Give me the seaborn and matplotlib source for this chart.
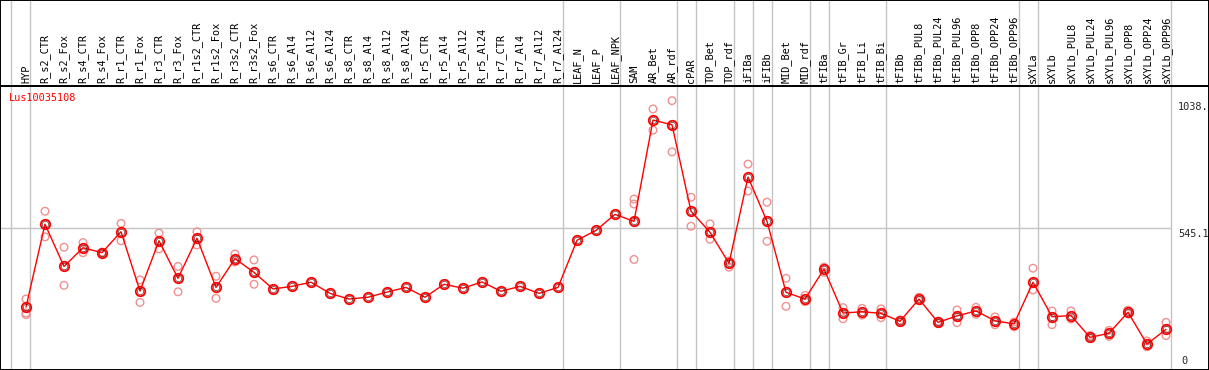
import numpy as np
import pandas as pd
import matplotlib
matplotlib.use("Agg")
import matplotlib.pyplot as plt
import seaborn as sns

# sample names (x categories)
samples = ["HYP", "R_s2_CTR", "R_s2_Fox", "R_s4_CTR", "R_s4_Fox", "R_r1_CTR", "R_r1_Fox",
           "R_r3_CTR", "R_r3_Fox", "R_r1s2_CTR", "R_r1s2_Fox", "R_r3s2_CTR", "R_r3s2_Fox",
           "R_s6_CTR", "R_s6_Al4", "R_s6_Al12", "R_s6_Al24", "R_s8_CTR", "R_s8_Al4",
           "R_s8_Al12", "R_s8_Al24", "R_r5_CTR", "R_r5_Al4", "R_r5_Al12", "R_r5_Al24",
           "R_r7_CTR", "R_r7_Al4", "R_r7_Al12", "R_r7_Al24", "LEAF_N", "LEAF_P", "LEAF_NPK",
           "SAM", "AR_Bet", "AR_rdf", "cPAR", "TOP_Bet", "TOP_rdf", "iFIBa", "iFIBb",
           "MID_Bet", "MID_rdf", "tFIBa", "tFIB_Gr", "tFIB_Li", "tFIB_Bi", "tFIBb",
           "tFIBb_PUL8", "tFIBb_PUL24", "tFIBb_PUL96", "tFIBb_OPP8", "tFIBb_OPP24",
           "tFIBb_OPP96", "sXYLa", "sXYLb", "sXYLb_PUL8", "sXYLb_PUL24", "sXYLb_PUL96",
           "sXYLb_OPP8", "sXYLb_OPP24", "sXYLb_OPP96"]

# mean expression per sample
means = [241, 561, 398, 470, 451, 532, 303, 497, 352, 507, 317, 428, 375,
         311, 321, 337, 294, 272, 279, 299, 317, 279, 329, 314, 338, 302, 321, 294, 317,
         499, 537, 599, 572, 963, 945, 611, 530, 410, 743, 572, 298, 272, 388,
         218, 223, 217, 186, 272, 182, 207, 226, 188, 176, 337, 204, 208, 124, 140,
         221, 98, 155]

# replicate values (empty where only one replicate)
replicates = [[272, 218, 212], [611, 512], [472, 325], [490, 451], [449, 453],
              [564, 497], [346, 259], [527, 466], [398, 300], [532, 481], [360, 275],
              [446, 415], [423, 329],
              [], [], [], [], [], [], [], [], [], [], [], [], [], [], [], [], [], [], [],
              [658, 639, 425], [1006, 924], [1038, 840], [665, 553], [562, 503],
              [419, 395], [793, 689], [646, 495], [352, 244], [286, 262], [395, 375],
              [239, 196], [236, 210], [234, 200], [191, 181], [279, 266], [186, 178],
              [230, 181], [240, 213], [203, 173], [183, 165], [391, 307], [226, 173],
              [226, 195], [131, 120], [151, 128], [229, 215], [110, 88], [182, 131]]

# group boundaries (line drawn after these sample indices)
group_ends = [-1, 0, 28, 31, 34, 35, 37, 38, 39, 41, 42, 45, 52, 53, 60]

gene_id = "Lus10035108"
y_ticks = [0, 545.1, 1038]
y_tick_labels = ["0", "545.1", "1038."]

df_mean = pd.DataFrame({"pos": np.arange(len(samples)), "value": means})
rep_rows = [(i, v) for i, reps in enumerate(replicates) for v in reps]
df_rep = pd.DataFrame(rep_rows, columns=["pos", "value"])

sns.set_style("white")
plt.rcParams["font.family"] = ["DejaVu Sans Mono", "DejaVu Sans"]

W, H = 1209, 370
fig = plt.figure(figsize=(W / 100, H / 100), dpi=100)

# pixel geometry
x0, dx = 26, 19
xlim = ((0 - x0) / dx, (W - x0) / dx)
plot_top, plot_bot = 86, 369.5
per_px = 3.861
ylim = (0, (plot_bot - plot_top) * per_px)

ax = fig.add_axes([0, (H - plot_bot) / H, 1, (plot_bot - plot_top) / H])
hdr = fig.add_axes([0, (H - plot_top) / H, 1, plot_top / H])

for a in (ax, hdr):
    a.set_xlim(*xlim)
    a.set_xticks([])
    a.set_yticks([])
    for s in a.spines.values():
        s.set_color("black")
        s.set_linewidth(1.4)
    for g in group_ends:
        a.axvline(g + 4.5 / dx, color="#c4c4c4", lw=1.0, zorder=0)
hdr.set_ylim(0, 1)
ax.set_ylim(*ylim)

# header labels
for i, name in enumerate(samples):
    hdr.text(i, 0.035, name, rotation=90, ha="center", va="bottom", fontsize=7.4,
             color="black")

# mid reference line
ax.hlines(545.1, xlim[0], 60 + 4.5 / dx, color="#c4c4c4", lw=1.0, zorder=0)

# replicates
sns.scatterplot(data=df_rep, x="pos", y="value", ax=ax, marker="o", s=30,
                facecolors="none", edgecolor="#f09090", linewidth=1.0, zorder=3,
                legend=False)
# mean line
sns.lineplot(data=df_mean, x="pos", y="value", ax=ax, color="red", lw=1.0,
             marker="o", markersize=6.8, markerfacecolor="none",
             markeredgecolor="red", markeredgewidth=1.3, zorder=4, legend=False)
ax.plot(df_mean["pos"], df_mean["value"], "o", ms=4.6, mfc="none", mec="#400000",
        mew=0.4, zorder=5)

ax.set_xlabel("")
ax.set_ylabel("")
ax.set_xlim(*xlim)
ax.set_ylim(*ylim)

# right side value labels
lab_x = (1178 - x0) / dx
ax.text(lab_x, 1038 - 7, y_tick_labels[2], ha="left", va="top", fontsize=7.4)
ax.text(lab_x, 545.1 - 2, y_tick_labels[1], ha="left", va="top", fontsize=7.4)
ax.text((1181 - x0) / dx, 12, y_tick_labels[0], ha="left", va="bottom", fontsize=7.4)

ax.text((9 - x0) / dx, (plot_bot - 98) * per_px, gene_id, color="red", ha="left",
        va="center", fontsize=7.4)

fig.savefig("out.png", dpi=100)
